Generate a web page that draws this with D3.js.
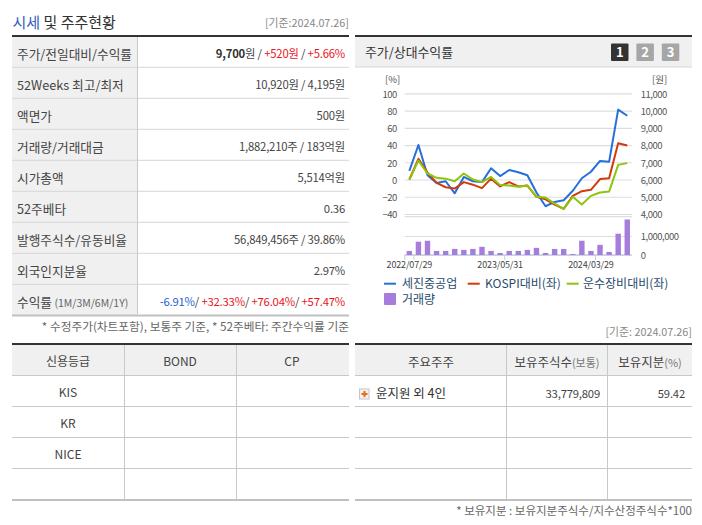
<!DOCTYPE html>
<html>
<head>
<meta charset="utf-8">
<script src="https://cdn.jsdelivr.net/npm/d3@7"></script>
<style>
html, body { margin: 0; padding: 0; background: #fff; }
svg { display: block; }
text { font-family: "Noto Sans CJK KR", "Noto Sans", sans-serif; }
</style>
</head>
<body>
<div id="chart"></div>
<script>
// chart data
var dates = ['2022/07/29','2022/08/31','2022/09/30','2022/10/31','2022/11/30','2022/12/29','2023/01/31','2023/02/28','2023/03/31','2023/04/28','2023/05/31','2023/06/30','2023/07/31','2023/08/31','2023/09/27','2023/10/31','2023/11/30','2023/12/28','2024/01/31','2024/02/29','2024/03/29','2024/04/30','2024/05/31','2024/06/28','2024/07/26'];
var stockValues = [10,40,5,-4,-2,-16,3,-2,-3,13,4,11,8.5,5,-15,-31,-26,-24,-13,1.5,9,21.5,20.5,81,74];
var kospiValues = [0,24,8,-4,-9,-10.5,-3,-6,-10,1,-8,-3,-8,-7,-20,-23,-29,-34,-19,-13.5,-12,0.5,1.5,42,39.5];
var sectorValues = [0,22,7,2,1,-2,7,0,-3,3,-6.5,-7,-8.5,-7,-20,-21,-28,-34,-20,-29,-19,-15,-14,17,19];
var volumes = [214000,700000,750000,214000,214000,320000,270000,320000,430000,214000,107000,214000,214000,270000,375000,107000,320000,320000,50000,750000,214000,535000,160000,1120000,1870000];

var percentTicks = [-40,-20,0,20,40,60,80,100];
var priceTicks = [4000,5000,6000,7000,8000,9000,10000,11000];
var volumeTicks = [0,1000000];
var dateTicks = ['2022/07/29','2023/05/31','2024/03/29'];
var seriesNames = ['세진중공업','KOSPI대비(좌)','운수장비대비(좌)','거래량'];

// table data
var priceLabels = ['주가/전일대비/수익률','52Weeks 최고/최저','액면가','거래량/거래대금','시가총액','52주베타','발행주식수/유동비율','외국인지분율','수익률'];
var priceValues = [
    [['9,700','b'],['원 / ',''],['+520원','r'],[' / ',''],['+5.66%','r']],
    [['10,920원 / 4,195원','']],
    [['500원','']],
    [['1,882,210주 / 183억원','']],
    [['5,514억원','']],
    [['0.36','']],
    [['56,849,456주 / 39.86%','']],
    [['2.97%','']],
    [['-6.91%','u'],['/ ',''],['+32.33%','r'],['/ ',''],['+76.04%','r'],['/ ',''],['+57.47%','r']]
];
var creditHeader = ['신용등급','BOND','CP'];
var creditRows = ['KIS','KR','NICE',''];
var holderHeader = ['주요주주','보유주식수','보유지분'];
var holderName = '윤지원 외 4인';
var holderShares = '33,779,809';
var holderRatio = '59.42';

var svg = d3.select('#chart').append('svg').attr('width', 702).attr('height', 525);

function hline(x1, x2, y, color, w){
    svg.append('line').attr('x1', x1).attr('x2', x2).attr('y1', y).attr('y2', y)
        .attr('stroke', color).attr('stroke-width', w || 1);
}
function vline(x, y1, y2, color){
    svg.append('line').attr('x1', x).attr('x2', x).attr('y1', y1).attr('y2', y2).attr('stroke', color);
}
function box(x, y, w, h, color){
    return svg.append('rect').attr('x', x).attr('y', y).attr('width', w).attr('height', h).attr('fill', color);
}
function label(x, y, str, anchor, size, color){
    return svg.append('text').attr('x', x).attr('y', y).attr('dy', '0.45em')
        .attr('text-anchor', anchor || 'start').attr('font-size', size || 12)
        .attr('fill', color || '#444').text(str);
}

var colorOf = {'': '#444', r: '#e8141c', u: '#1c5fd0', b: '#333'};
var gridColor = '#c8c8c8';

// title
var title = label(12.5, 21.5, '', 'start', 15, '#333');
title.append('tspan').attr('fill', '#2f5fb8').text('시세');
title.append('tspan').text(' 및 주주현황');
label(349, 22.5, '[기준:2024.07.26]', 'end', 10.8, '#888');

// price table, left top
var priceRowY = d3.range(priceLabels.length + 1).map(function(i){ return 36.5 + i * 31 - (i > 0 ? 0.2 : 0); });
box(12, 36, 125, 279, '#f0f0f0');
priceLabels.forEach(function(name, i){
    var mid = (priceRowY[i] + priceRowY[i + 1]) / 2 + 1;
    var t = label(17, mid, name, 'start', 12.7, '#444');
    if(i === 8){
        t.append('tspan').attr('font-size', 10.5).attr('fill', '#666').text(' (1M/3M/6M/1Y)');
    }
    var v = label(345, mid, '', 'end', 11.3, '#444').style('letter-spacing', '-0.2px');
    priceValues[i].forEach(function(part){
        v.append('tspan').attr('fill', colorOf[part[1]])
            .attr('font-weight', part[1] === 'b' ? 700 : 400)
            .attr('xml:space', 'preserve').text(part[0]);
    });
    if(i < 8) hline(12, 349, priceRowY[i + 1], '#d6d6d6');
});
vline(137.5, 36, 314, gridColor);
hline(12, 349, 36, '#333', 2);
hline(12, 349, 315.5, '#c0c0c0', 2);
label(349, 326, '* 수정주가(차트포함), 보통주 기준, * 52주베타: 주간수익률 기준', 'end', 11.7, '#666');

// credit table, left bottom
var tableRowY = [344, 375.5, 406.5, 437.5, 468.5, 499.5];
var creditMid = [68, 180, 292];
box(12, 344, 337, 31, '#f0f0f0');
creditHeader.forEach(function(name, i){ label(creditMid[i], 361, name, 'middle', 12, '#444'); });
creditRows.forEach(function(name, i){
    label(creditMid[0], (tableRowY[i + 1] + tableRowY[i + 2]) / 2 + 1, name, 'middle', 12, '#444');
    if(i < 3) hline(12, 349, tableRowY[i + 2], gridColor);
});
hline(12, 349, 375.5, gridColor);
vline(124.5, 344, 499, gridColor);
vline(236.5, 344, 499, gridColor);
hline(12, 349, 344, '#333', 2);
hline(12, 349, 500, '#c0c0c0', 2);

// holder table, right bottom
label(692, 331, '[기준: 2024.07.26]', 'end', 10.8, '#888');
box(355, 344, 337, 31, '#f0f0f0');
label(431, 361, holderHeader[0], 'middle', 12.5, '#444');
var h1 = label(557, 361, holderHeader[1], 'middle', 12.5, '#444');
h1.append('tspan').attr('font-size', 11).attr('fill', '#777').text('(보통)');
var h2 = label(650, 361, holderHeader[2], 'middle', 12.5, '#444');
h2.append('tspan').attr('font-size', 11).attr('fill', '#777').text('(%)');
[0,1,2,3].forEach(function(i){
    hline(355, 692, tableRowY[i + 1], gridColor);
});
vline(506.5, 344, 499, gridColor);
vline(607.5, 344, 499, gridColor);
hline(355, 692, 344, '#333', 2);
hline(355, 692, 500, '#c0c0c0', 2);
box(359.5, 389, 9.5, 10, '#f2f2f2').attr('stroke', '#c4c4c4');
box(361.5, 393, 6, 2, '#f06a10');
box(363.5, 391, 2, 6, '#f06a10');
label(376, 392, holderName, 'start', 12.5, '#333');
label(600, 393, holderShares, 'end', 11.3, '#444').style('letter-spacing', '-0.2px');
label(685, 393, holderRatio, 'end', 11.3, '#444').style('letter-spacing', '-0.2px');
label(692, 510, '* 보유지분 : 보유지분주식수/지수산정주식수*100', 'end', 11.5, '#666');

// chart header
box(355, 37, 337, 30, '#f0f0f0');
hline(355, 692, 36, '#333', 2);
hline(355, 692, 67, '#d8d8d8');
label(365, 51.5, '주가/상대수익률', 'start', 12.9, '#333');
['1','2','3'].forEach(function(n, i){
    var bx = 611 + i * 25.4;
    box(bx, 43.5, 17.5, 17.5, i === 0 ? '#333' : '#a6a6a6').attr('rx', 1);
    label(bx + 8.75, 51.5, n, 'middle', 13, '#fff').attr('font-weight', 700);
});

// scales
var x = d3.scaleBand().domain(dates).range([404.8, 631.8]);
var center = function(d){ return x(d) + x.bandwidth() / 2; };
var yPct = d3.scaleLinear().domain([-40, 100]).range([214, 93.3]);
var yPrice = d3.scaleLinear().domain([4000, 11000]).range([214, 93.3]);
var yVol = d3.scaleLinear().domain([0, 1000000]).range([255, 236]);

// grid + left axis
var gLeft = svg.append('g').attr('transform', 'translate(404.8,0)')
    .call(d3.axisLeft(yPct).tickValues(percentTicks).tickSize(-227).tickPadding(8).tickFormat(d3.format('d')));
var gRight = svg.append('g').attr('transform', 'translate(631.8,0)')
    .call(d3.axisRight(yPrice).tickValues(priceTicks).tickSize(0).tickPadding(9).tickFormat(d3.format(',')));
var gVol = svg.append('g').attr('transform', 'translate(631.8,0)')
    .call(d3.axisRight(yVol).tickValues(volumeTicks).tickSize(-227).tickPadding(9).tickFormat(d3.format(',')));
[gLeft, gRight, gVol].forEach(function(g){
    g.select('.domain').remove();
    g.selectAll('.tick line').attr('stroke', '#ddd').attr('stroke-width', 1.2);
    g.selectAll('text').attr('font-size', 9.5).attr('fill', '#555').attr('dy', '0.4em')
        .style('font-family', '"Noto Sans CJK KR"').style('letter-spacing', '-0.5px');
});
hline(404.8, 631.8, 216.7, '#ddd', 1.2);
hline(404.8, 631.8, 255, '#c0d0e0', 1.5);
label(385, 78.5, '[%]', 'start', 9.5, '#555');
label(652, 78.5, '[원]', 'start', 9.5, '#555');

// bars
svg.append('g').selectAll('rect').data(volumes).enter().append('rect')
    .attr('x', function(d, i){ return center(dates[i]) - 2.7; })
    .attr('width', 5.4)
    .attr('y', function(d){ return yVol(d); })
    .attr('height', function(d){ return yVol(0) - yVol(d); })
    .attr('fill', '#a67cdc');

// x axis
var xAxis = d3.axisBottom(x).tickValues(dateTicks).tickSize(0).tickPadding(5.5);
var gx = svg.append('g').attr('transform', 'translate(0,256)').call(xAxis);
gx.select('.domain').remove();
gx.selectAll('text').attr('font-size', 9).attr('fill', '#444')
    .style('font-family', '"Noto Sans CJK KR"').style('letter-spacing', '-0.15px');
dateTicks.forEach(function(d){
    vline(x(d) + x.bandwidth(), 255, 260, '#c0d0e0');
});
vline(404.8, 255, 260, '#c0d0e0');

// lines
var line = d3.line().x(function(d, i){ return center(dates[i]); }).y(function(d){ return yPct(d); });
var seriesColors = ['#2470d8', '#d23a0a', '#8cc40e'];
[stockValues, kospiValues, sectorValues].forEach(function(values, i){
    svg.append('path').datum(values).attr('d', line).attr('fill', 'none')
        .attr('stroke', seriesColors[i]).attr('stroke-width', 2).attr('stroke-linejoin', 'round');
});

// legend
var legendLineX = [384, 467.7, 566.7];
var legendTextX = [402, 485, 583];
seriesColors.forEach(function(c, i){
    hline(legendLineX[i], legendLineX[i] + 12, 283.7, c, 2);
    label(legendTextX[i], 283, seriesNames[i], 'start', 12, '#274b6d');
});
box(384, 293, 12, 12, '#a67cdc').attr('rx', 1);
label(402, 299, seriesNames[3], 'start', 12, '#274b6d');
</script>
</body>
</html>
